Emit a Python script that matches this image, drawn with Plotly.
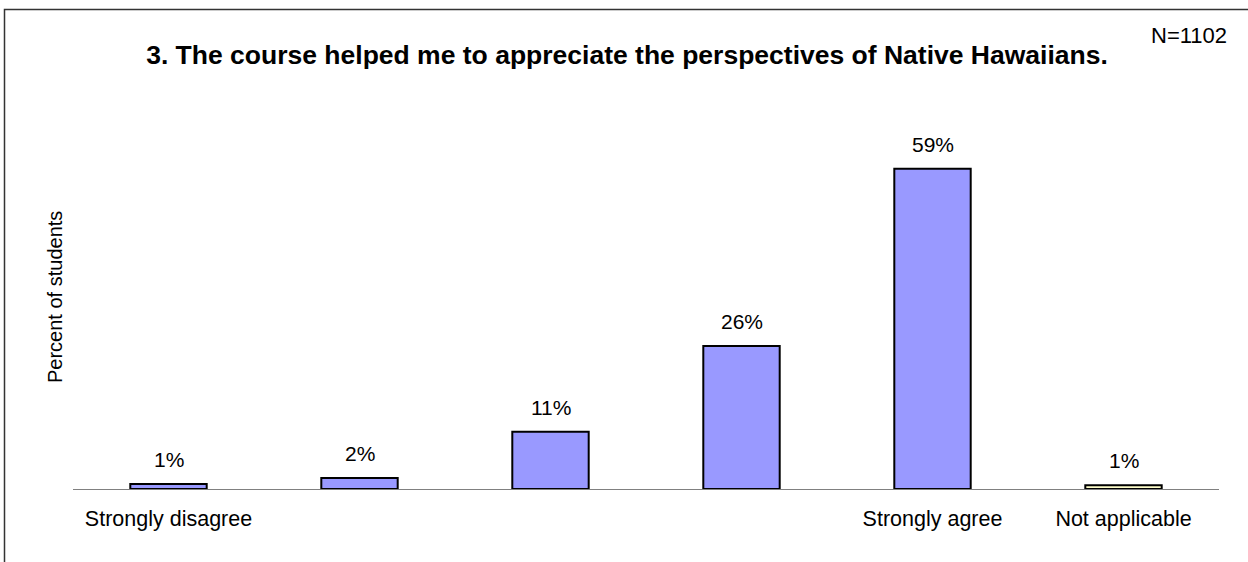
import plotly.graph_objects as go

categories = ["Strongly disagree", "", "", "", "Strongly agree", "Not applicable"]
values = [0.9, 2.0, 10.5, 26.2, 58.7, 0.7]
value_labels = ["1%", "2%", "11%", "26%", "59%", "1%"]
bar_colors = ["#9999FF", "#9999FF", "#9999FF", "#9999FF", "#9999FF", "#FFFFCC"]
title_text = "3. The course helped me to appreciate the perspectives of Native Hawaiians."
n_text = "N=1102"
y_title = "Percent of students"

W, H = 1248, 562
L, R, T, B = 73, 29, 107, 73
pw, ph = W - L - R, H - T - B
FONT = "Liberation Sans, Arial, sans-serif"

xs = list(range(len(categories)))

fig = go.Figure()
fig.add_trace(go.Bar(
    x=xs, y=values, width=0.4,
    marker=dict(color=bar_colors, line=dict(color="black", width=2)),
    hoverinfo="skip",
))

for x, v, lab in zip(xs, values, value_labels):
    fig.add_annotation(x=x, y=v, text=lab, showarrow=False, yanchor="bottom",
                       yshift=11, font=dict(size=21, color="black", family=FONT))

def px_to_paper_x(px):
    return (px - L) / pw

def px_to_paper_y(py):
    return (H - B - py) / ph

fig.add_annotation(xref="paper", yref="paper", x=px_to_paper_x(1229), y=px_to_paper_y(35),
                   text=n_text, showarrow=False, xanchor="right", yanchor="middle",
                   font=dict(size=22, color="black", family=FONT))
fig.add_annotation(xref="paper", yref="paper", x=px_to_paper_x(55), y=px_to_paper_y(297),
                   text=y_title, showarrow=False, textangle=-90, xanchor="center", yanchor="middle",
                   font=dict(size=20, color="black", family=FONT))

# frame border
fig.add_shape(type="rect", xref="paper", yref="paper",
              x0=px_to_paper_x(4.5), x1=px_to_paper_x(1300),
              y0=px_to_paper_y(620), y1=px_to_paper_y(9.5),
              line=dict(color="#333333", width=1.5), layer="above")

fig.update_layout(
    width=W, height=H,
    margin=dict(l=L, r=R, t=T, b=B),
    paper_bgcolor="white", plot_bgcolor="white",
    showlegend=False,
    title=dict(text="<b>" + title_text + "</b>", xref="container", yref="container",
               x=627 / W, xanchor="center", y=1 - 55 / H, yanchor="middle",
               font=dict(size=26.5, color="black", family=FONT)),
    xaxis=dict(range=[-0.5, 5.5], tickvals=xs, ticktext=categories,
               showline=True, linecolor="#808080", linewidth=1,
               showgrid=False, zeroline=False, ticks="outside", ticklen=10,
               tickcolor="rgba(0,0,0,0)",
               tickfont=dict(size=21.5, color="black", family=FONT), fixedrange=True),
    yaxis=dict(range=[0, 70], showticklabels=False, showgrid=False, zeroline=False,
               showline=False, fixedrange=True),
)

fig.write_html("out.html", config={"displayModeBar": False},
               post_script="document.body.style.margin='0';document.body.style.overflow='hidden';")
